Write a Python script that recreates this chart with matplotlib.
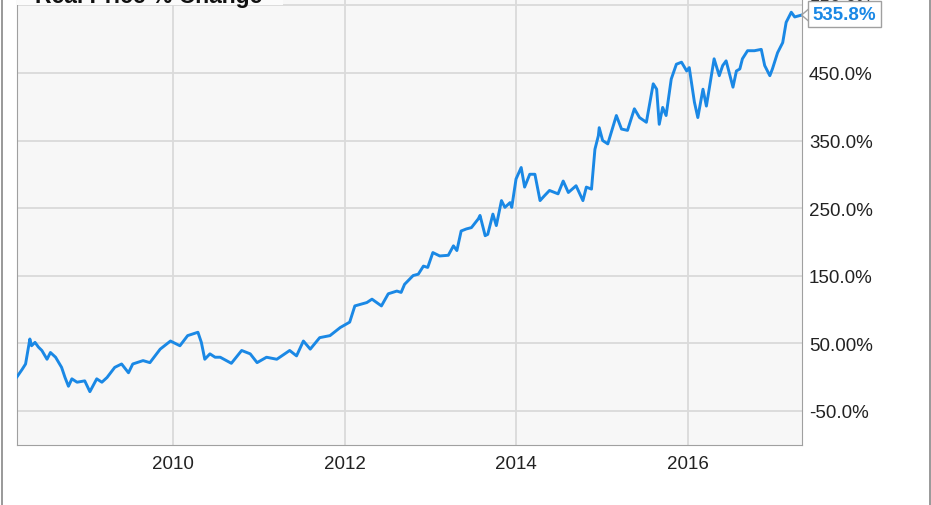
import matplotlib.pyplot as plt
from matplotlib.patches import Rectangle
from matplotlib.lines import Line2D

# real price % change (decimal year, percent)
tahun = [2008.18, 2008.24, 2008.28, 2008.33, 2008.35, 2008.39, 2008.43, 2008.47, 2008.53, 2008.57,
         2008.63, 2008.70, 2008.74, 2008.78, 2008.82, 2008.88, 2008.97, 2009.03, 2009.11, 2009.17,
         2009.23, 2009.32, 2009.40, 2009.48, 2009.53, 2009.65, 2009.73, 2009.85, 2009.97, 2010.08,
         2010.17, 2010.29, 2010.33, 2010.37, 2010.43, 2010.49, 2010.55, 2010.68, 2010.80, 2010.90,
         2010.98, 2011.09, 2011.21, 2011.36, 2011.44, 2011.52, 2011.60, 2011.71, 2011.83, 2011.95,
         2012.06, 2012.12, 2012.26, 2012.32, 2012.43, 2012.51, 2012.61, 2012.66, 2012.70, 2012.80,
         2012.86, 2012.92, 2012.97, 2013.03, 2013.11, 2013.21, 2013.27, 2013.31, 2013.36, 2013.42,
         2013.48, 2013.56, 2013.58, 2013.64, 2013.67, 2013.73, 2013.77, 2013.83, 2013.87, 2013.93,
         2013.95, 2014.00, 2014.06, 2014.10, 2014.16, 2014.22, 2014.28, 2014.33, 2014.39, 2014.49,
         2014.55, 2014.61, 2014.70, 2014.78, 2014.82, 2014.88, 2014.92, 2014.96, 2014.97, 2015.01,
         2015.07, 2015.17, 2015.23, 2015.30, 2015.38, 2015.44, 2015.52, 2015.60, 2015.64, 2015.67,
         2015.71, 2015.75, 2015.81, 2015.87, 2015.93, 2015.99, 2016.02, 2016.08, 2016.12, 2016.18,
         2016.22, 2016.31, 2016.37, 2016.41, 2016.45, 2016.53, 2016.57, 2016.61, 2016.64, 2016.70,
         2016.78, 2016.86, 2016.90, 2016.96, 2016.99, 2017.05, 2017.11, 2017.15, 2017.21, 2017.25,
         2017.33]
persen = [0, 11, 19, 56, 46, 51, 44, 39, 26, 36,
          29, 14, -1, -14, -3, -8, -6, -22, -3, -8,
          -1, 14, 19, 6, 19, 24, 21, 41, 53, 46,
          61, 66, 51, 26, 34, 29, 29, 20, 39, 34,
          21, 29, 26, 39, 31, 53, 41, 58, 61, 73,
          81, 105, 110, 115, 105, 123, 127, 125, 137, 150,
          152, 164, 162, 184, 179, 180, 194, 187, 216, 219,
          221, 234, 239, 209, 211, 241, 224, 261, 251, 258,
          251, 293, 310, 281, 300, 300, 261, 268, 276, 271,
          290, 273, 283, 261, 281, 278, 337, 357, 369, 350,
          345, 387, 367, 365, 397, 384, 377, 434, 426, 374,
          399, 387, 441, 463, 466, 453, 458, 407, 384, 426,
          401, 471, 446, 461, 468, 429, 453, 456, 471, 483,
          483, 485, 461, 446, 456, 480, 495, 525, 540, 533,
          535.8]

y_ticks = [-50, 50, 150, 250, 350, 450, 550]
y_labels = ['-50.0%', '50.00%', '150.0%', '250.0%', '350.0%', '450.0%', '550.0%']
x_ticks = [2010, 2012, 2014, 2016]

plt.rcParams['font.family'] = ['Liberation Sans', 'DejaVu Sans']

fig = plt.figure(figsize=(9.31, 5.06), dpi=100)
ax = fig.add_axes([17 / 931, 60 / 506, 785 / 931, 446 / 506])
ax.set_facecolor('#f7f7f7')

biru = '#1a88e5'
ax.plot(tahun, persen, color=biru, linewidth=2.1, zorder=3)

ax.set_xlim(2008.18, 2017.335)
ax.set_ylim(-101, 559.6)

ax.set_yticks(y_ticks)
ax.set_yticklabels(y_labels)
ax.set_xticks(x_ticks)
ax.set_xticklabels([str(t) for t in x_ticks])
ax.yaxis.tick_right()
ax.tick_params(axis='both', length=0, labelsize=13.5, labelcolor='#222222')
ax.tick_params(axis='y', pad=5)
ax.tick_params(axis='x', pad=7)
ax.grid(True, color='#dadada', linewidth=1.3)
ax.set_axisbelow(True)

for s in ['left', 'right', 'bottom']:
    ax.spines[s].set_color('#a0a0a0')
ax.spines['top'].set_visible(False)

# label nilai terakhir
x_akhir, y_akhir = tahun[-1], persen[-1]
ax.annotate('535.8%', xy=(x_akhir, y_akhir), xytext=(11, 1), textcoords='offset pixels',
            ha='left', va='center', fontsize=13.5, fontweight='bold', color=biru, zorder=5,
            bbox=dict(boxstyle='square,pad=0.25', fc='white', ec='#a0a0a0', lw=1))
for dy in [6, -6]:
    ax.annotate('', xy=(x_akhir, y_akhir), xytext=(7, dy), textcoords='offset pixels',
                arrowprops=dict(arrowstyle='-', color='#a0a0a0', lw=1, shrinkA=0, shrinkB=0))

# judul yang terpotong di atas
fig.patches.append(Rectangle((17 / 931, 1 - 6 / 506), 266 / 931, 6 / 506,
                             transform=fig.transFigure, fc='#fbfbfb', ec='none', zorder=4))
fig.text(35 / 931, 1 - 3 / 506, 'Real Price % Change', fontsize=16.5, fontweight='bold',
         va='baseline', ha='left', color='#111111', zorder=5)

# garis tepi gambar
fig.lines.append(Line2D([1.5 / 931, 1.5 / 931], [0, 1], transform=fig.transFigure, color='#888888', lw=1.2))
fig.lines.append(Line2D([929.5 / 931, 929.5 / 931], [0, 1], transform=fig.transFigure, color='#888888', lw=1.2))

fig.savefig('out.png', dpi=100)
